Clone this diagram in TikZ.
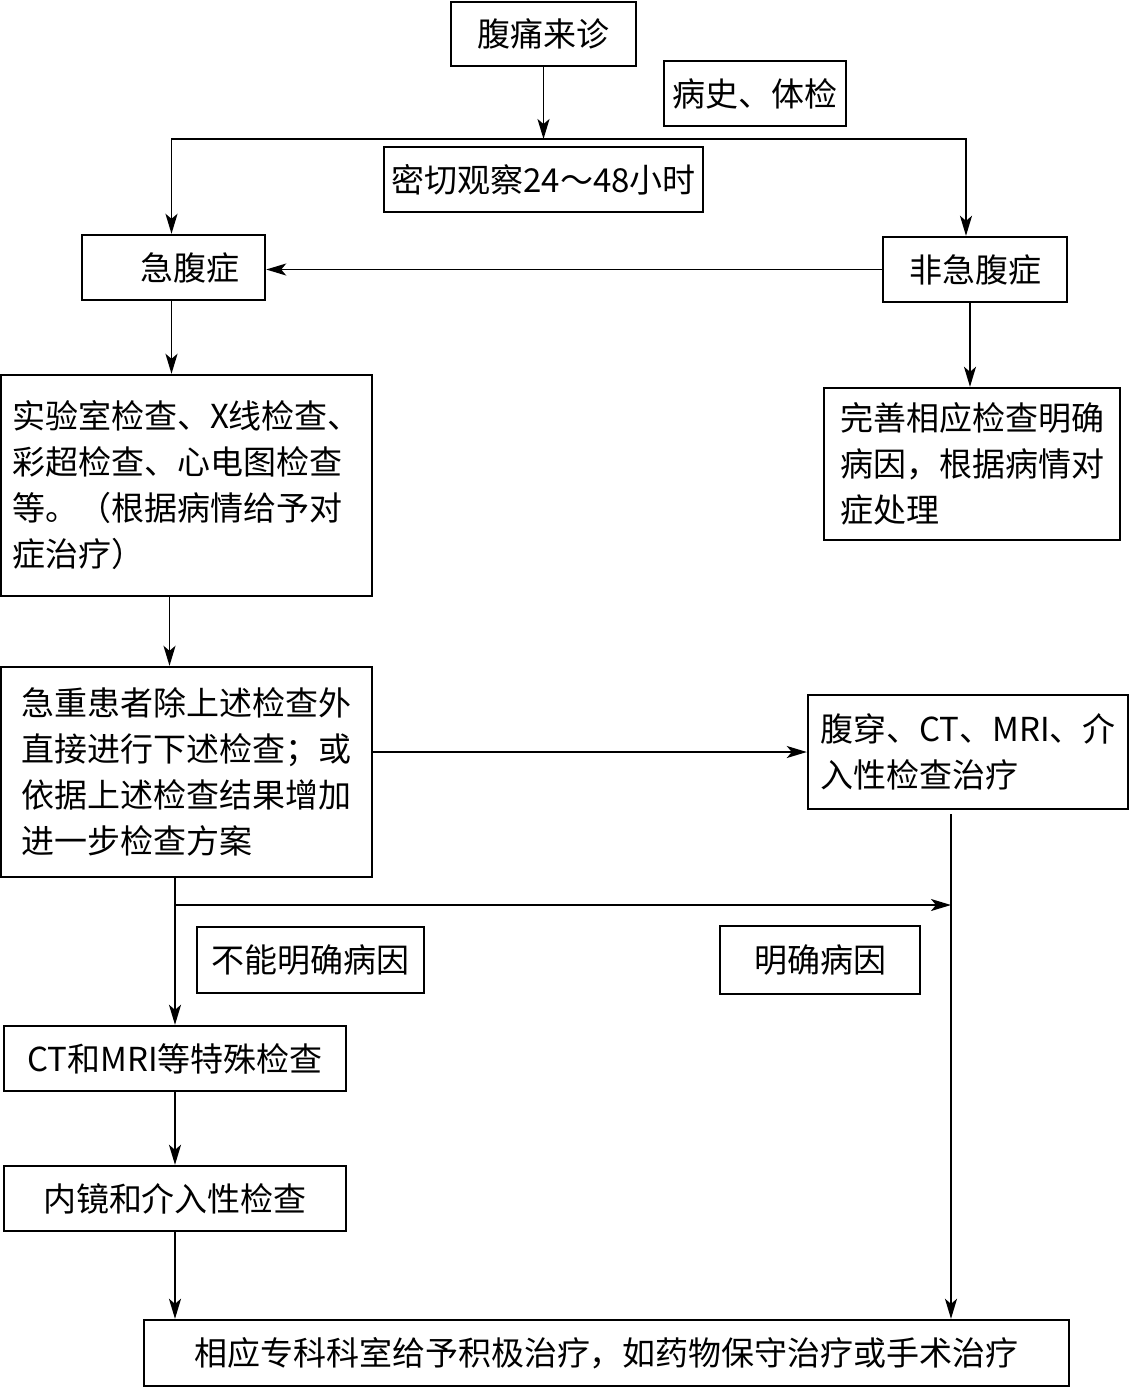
\documentclass[tikz,border=0pt]{standalone}
\usepackage{fontspec}
\setmainfont{Noto Sans CJK SC}
\usepackage{tikz}
\usetikzlibrary{arrows.meta, positioning}

\begin{document}
\begin{tikzpicture}[
    x=0.5pt, y=-0.5pt,
    box/.style={draw, line width=1.2pt, inner sep=0pt, align=left, font=\fontsize{16.5pt}{23pt}\selectfont},
    link/.style={draw, line width=0.9pt, -{Stealth[length=10pt, width=6pt, inset=2.5pt]}}
]
    \useasboundingbox (0,0) rectangle (1130,1389);

    \node[box, minimum width=92.5pt, minimum height=32pt] (start) at (543.5,34) {腹痛来诊};
    \node[box, minimum width=91pt, minimum height=32.5pt] (hist) at (755,93.5) {病史、体检};
    \node[box, minimum width=159.5pt, minimum height=32.5pt] (watch) at (543.5,179.5) {密切观察24～48小时};
    \node[box, minimum width=91.5pt, minimum height=32.5pt] (acute) at (173.5,267.5) {\hspace*{1em}急腹症};
    \node[box, minimum width=92pt, minimum height=32.5pt] (nonacute) at (975,269.5) {非急腹症};
    \node[box, minimum width=185.5pt, minimum height=110.5pt] (lab) at (186.5,485.5)
        {实验室检查、X线检查、\\彩超检查、心电图检查\\等。（根据病情给予对\\症治疗）};
    \node[box, minimum width=148pt, minimum height=76pt] (refine) at (972,464)
        {完善相应检查明确\\病因，根据病情对\\症处理};
    \node[box, minimum width=185.5pt, minimum height=105pt] (severe) at (186.5,772)
        {急重患者除上述检查外\\直接进行下述检查；或\\依据上述检查结果增加\\进一步检查方案};
    \node[box, minimum width=160pt, minimum height=57pt] (invasive) at (968,752)
        {腹穿、CT、MRI、介\\入性检查治疗};
    \node[box, minimum width=113.5pt, minimum height=33pt] (unclear) at (310.5,960) {不能明确病因};
    \node[box, minimum width=100pt, minimum height=34pt] (clear) at (820,960) {明确病因};
    \node[box, minimum width=171pt, minimum height=32.5pt] (ctmri) at (175,1058.5) {CT和MRI等特殊检查};
    \node[box, minimum width=171pt, minimum height=32.5pt] (endo) at (175,1198.5) {内镜和介入性检查};
    \node[box, minimum width=462.5pt, minimum height=33pt] (treat) at (606.5,1353)
        {相应专科科室给予积极治疗，如药物保守治疗或手术治疗};

    \coordinate (split) at (543.5,139);
    \coordinate (drop) at (951,814);
    \coordinate (fork) at (175,905);

    \draw[link] (start) -- (split);
    \draw[link] (split) -| ([xshift=-1pt]acute.north);
    \draw[link] (split) -| ([xshift=-4.5pt]nonacute.north);
    \draw[link] (nonacute.west) -- (nonacute.west -| acute.east);
    \draw[link] ([xshift=-1pt]acute.south) -- ([xshift=-1pt]acute.south |- lab.north);
    \draw[link] ([xshift=-2pt]acute.south |- lab.south) -- ([xshift=-2pt]acute.south |- severe.north);
    \draw[link] ([xshift=-2.5pt]nonacute.south) -- ([xshift=-2.5pt]nonacute.south |- refine.north);
    \draw[link] (invasive.west -| severe.east) -- (invasive.west);
    \draw[link] (ctmri.north |- severe.south) -- (ctmri.north);
    \draw[link] (fork) -- (fork -| drop);
    \draw[link] (drop) -- (drop |- treat.north);
    \draw[link] (ctmri) -- (endo);
    \draw[link] (endo.south) -- (endo.south |- treat.north);
\end{tikzpicture}
\end{document}
